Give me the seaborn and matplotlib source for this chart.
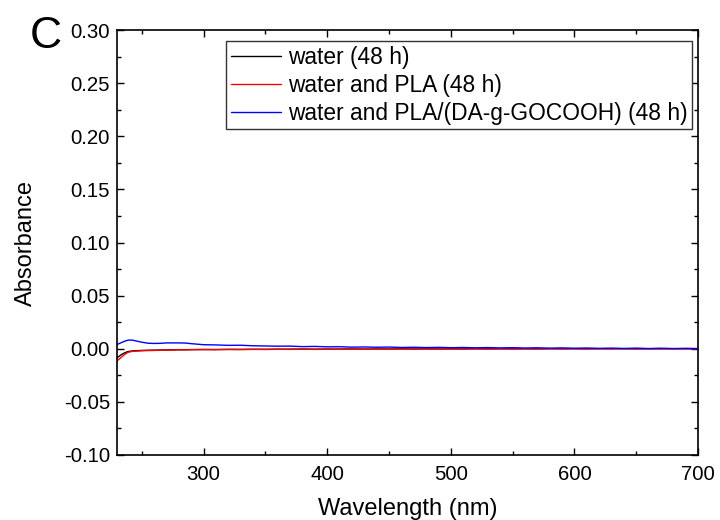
import matplotlib
matplotlib.use("Agg")
import matplotlib.pyplot as plt
import seaborn as sns
import pandas as pd
from matplotlib.ticker import MultipleLocator

sns.set_theme(style="white")
plt.rcParams['font.family'] = ['Liberation Sans', 'DejaVu Sans']
plt.rcParams['text.color'] = 'black'
plt.rcParams['axes.labelcolor'] = 'black'
plt.rcParams['xtick.color'] = 'black'
plt.rcParams['ytick.color'] = 'black'

wavelength = [230, 232, 234, 236, 238, 240, 243, 246, 250, 255, 260, 265, 270, 275, 280, 285, 290,
              300, 310, 320, 330, 340, 350, 360, 370, 380, 390, 400, 410, 420, 430, 440, 450,
              460, 470, 480, 490, 500, 510, 520, 530, 540, 550, 560, 570, 580, 590, 600, 610,
              620, 630, 640, 650, 660, 670, 680, 690, 700]

water = [-0.0085, -0.0068, -0.0052, -0.0040, -0.0030, -0.0024, -0.0020, -0.0018, -0.0016, -0.0014,
         -0.0013, -0.0012, -0.0011, -0.0010, -0.0009, -0.0009, -0.0008,
         -0.0007, -0.0007, -0.0006, -0.0006, -0.0005, -0.0005, -0.0004, -0.0004, -0.0003, -0.0004,
         -0.0003, -0.0003, -0.0002, -0.0003, -0.0002, -0.0002, -0.0001, -0.0002, -0.0001, -0.0002,
         -0.0001, -0.0001, 0.0000, -0.0001, 0.0000, -0.0001, 0.0000, -0.0001, 0.0000, 0.0000,
         0.0000, -0.0001, 0.0000, 0.0000, 0.0000, -0.0001, 0.0000, 0.0000, 0.0000, 0.0000, 0.0000]

water_pla = [-0.0115, -0.0095, -0.0075, -0.0055, -0.0040, -0.0030, -0.0024, -0.0022, -0.0019, -0.0017,
             -0.0016, -0.0014, -0.0013, -0.0012, -0.0010, -0.0011, -0.0009,
             -0.0008, -0.0009, -0.0007, -0.0008, -0.0006, -0.0007, -0.0005, -0.0006, -0.0004, -0.0006,
             -0.0004, -0.0005, -0.0003, -0.0005, -0.0003, -0.0004, -0.0002, -0.0004, -0.0002, -0.0003,
             -0.0002, -0.0003, -0.0001, -0.0003, -0.0001, -0.0002, -0.0001, -0.0002, 0.0000, -0.0002,
             0.0000, -0.0001, 0.0000, -0.0001, 0.0000, -0.0001, 0.0000, -0.0001, 0.0000, -0.0001, 0.0000]

water_pla_go = [0.0040, 0.0050, 0.0060, 0.0070, 0.0078, 0.0082, 0.0080, 0.0072, 0.0062, 0.0052,
                0.0050, 0.0051, 0.0055, 0.0055, 0.0055, 0.0054, 0.0048,
                0.0038, 0.0036, 0.0032, 0.0033, 0.0028, 0.0026, 0.0024, 0.0025, 0.0020, 0.0022,
                0.0018, 0.0019, 0.0015, 0.0017, 0.0014, 0.0016, 0.0012, 0.0014, 0.0011, 0.0013,
                0.0010, 0.0012, 0.0009, 0.0011, 0.0008, 0.0010, 0.0007, 0.0009, 0.0006, 0.0008,
                0.0005, 0.0007, 0.0004, 0.0006, 0.0003, 0.0006, 0.0002, 0.0005, 0.0002, 0.0004, 0.0002]

labels = ["water (48 h)", "water and PLA (48 h)", "water and PLA/(DA-g-GOCOOH) (48 h)"]
colors = ["#000000", "#ff0000", "#0000ff"]

fig = plt.figure(figsize=(7.2, 5.2), dpi=100)
ax = fig.add_axes([117/720, 1 - 455/520, (698 - 117)/720, (455 - 30)/520])

for ys, lab, col in zip([water, water_pla, water_pla_go], labels, colors):
    df = pd.DataFrame({"Wavelength": wavelength, "Absorbance": ys})
    sns.lineplot(data=df, x="Wavelength", y="Absorbance", ax=ax, color=col,
                 linewidth=1.0, label=lab)

ax.set_xlim(230, 700)
ax.set_ylim(-0.10, 0.30)
ax.xaxis.set_major_locator(MultipleLocator(100))
ax.xaxis.set_minor_locator(MultipleLocator(50))
ax.yaxis.set_major_locator(MultipleLocator(0.05))
ax.yaxis.set_minor_locator(MultipleLocator(0.025))
ax.set_yticks([-0.10, -0.05, 0.00, 0.05, 0.10, 0.15, 0.20, 0.25, 0.30])
ax.set_yticklabels(["-0.10", "-0.05", "0.00", "0.05", "0.10", "0.15", "0.20", "0.25", "0.30"])
ax.set_xticks([300, 400, 500, 600, 700])

ax.tick_params(which="both", direction="in", top=True, right=True, bottom=True, left=True,
               colors="black", labelcolor="black", labelsize=14.7, width=1.0)
ax.tick_params(which="major", length=5, pad=5)
ax.tick_params(which="minor", length=3)
ax.tick_params(axis="x", which="major", pad=7)
for sp in ax.spines.values():
    sp.set_color("black")
    sp.set_linewidth(1.2)

ax.set_xlabel("Wavelength (nm)", fontsize=17, labelpad=10, color="black")
ax.set_ylabel("Absorbance", fontsize=17, labelpad=19, color="black")

leg = ax.legend(loc="upper right", bbox_to_anchor=(692/720, 1 - 41/520),
                bbox_transform=fig.transFigure, borderaxespad=0, fontsize=16.4,
                frameon=True, fancybox=False, edgecolor="#333333", framealpha=1,
                handlelength=2.2, handletextpad=0.3, labelspacing=0.22,
                borderpad=0.2, labelcolor="black")
leg.get_frame().set_linewidth(1.0)

fig.text(46/720, 1 - 36/520, "C", fontsize=32, ha="center", va="center", color="black")

fig.savefig("out.png", dpi=100)
